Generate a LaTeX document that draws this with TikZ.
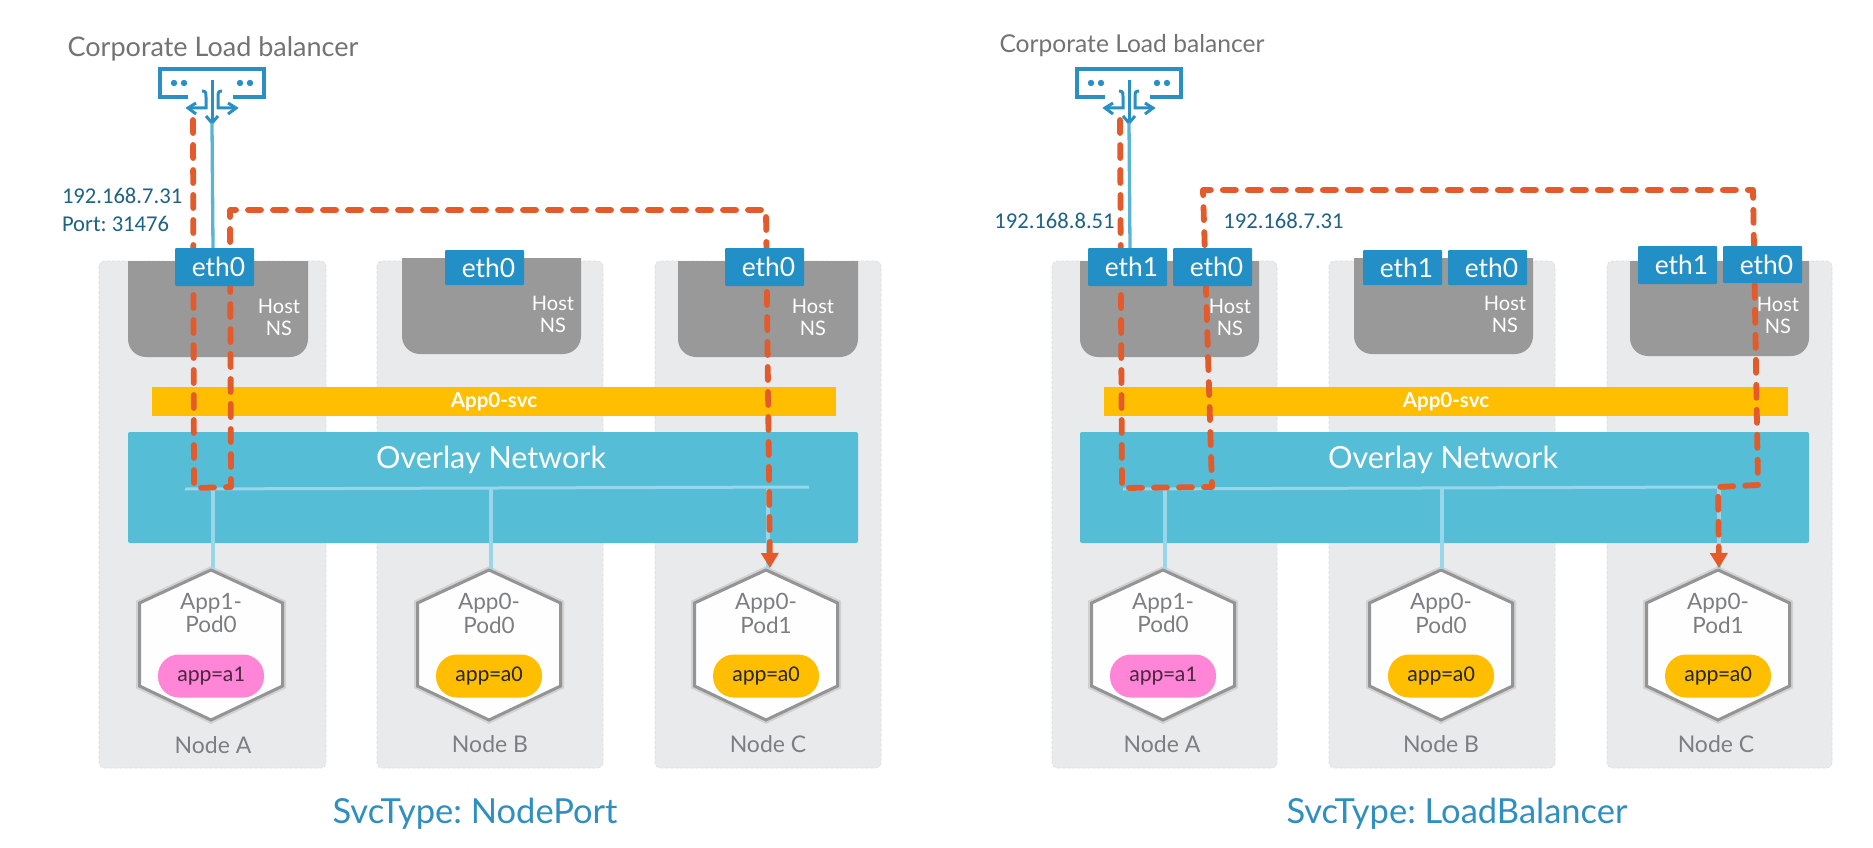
\documentclass[tikz,border=0pt]{standalone}
\usepackage{fontspec}
\setmainfont{Lato}
\newfontfamily\carl{Carlito}
\usetikzlibrary{arrows.meta}
\frenchspacing
\definecolor{nodebg}{HTML}{E9EAEB}
\definecolor{hostgray}{HTML}{999999}
\definecolor{ethblue}{HTML}{2290C6}
\definecolor{overlayc}{HTML}{55BDD6}
\definecolor{svcc}{HTML}{FFBF00}
\definecolor{pinkc}{HTML}{FF85D6}
\definecolor{pathc}{HTML}{E35A2B}
\definecolor{wirec}{HTML}{5AB4D6}
\definecolor{buswire}{HTML}{9AD6EA}
\definecolor{lbblue}{HTML}{2A8FC4}
\definecolor{iptext}{HTML}{1F6384}
\definecolor{greytext}{HTML}{7B7E82}
\definecolor{titlec}{HTML}{2E8FC0}
\tikzset{
  x=1pt,y=-1pt,
  every node/.style={inner sep=0pt,outer sep=0pt,align=center},
  panel/.style={fill=nodebg,draw=nodebg!95!black,densely dashed,line width=0.6pt,rounded corners=5pt},
  hostbox/.style={fill=hostgray},
  hosttext/.style={text=white,font=\fontsize{20}{22}\selectfont},
  ethbox/.style={fill=ethblue,text=white,minimum width=79pt,minimum height=38pt,font=\fontsize{26.4}{28}\selectfont,rounded corners=1pt},
  svcbar/.style={fill=svcc,text=white,font=\bfseries\fontsize{20.5}{22}\selectfont,minimum height=29pt},
  overlaybar/.style={fill=overlayc,rounded corners=2pt},
  overlaytext/.style={text=white,font=\fontsize{30.5}{34}\selectfont},
  podtext/.style={text=greytext,font=\fontsize{22.5}{24}\selectfont},
  nodelabel/.style={text=greytext,font=\fontsize{23}{26}\selectfont},
  pill/.style={rounded corners=21pt,minimum width=106pt,minimum height=43pt,font=\carl\fontsize{22.5}{24}\selectfont},
  iplabel/.style={text=iptext,font=\carl\fontsize{22.6}{28}\selectfont},
  lbtitle/.style={text=black!55!white,font=\fontsize{24.6}{28}\selectfont},
  svctitle/.style={text=titlec,font=\fontsize{34.5}{38}\selectfont},
  wire/.style={draw=wirec,line width=3.3pt},
  buswirest/.style={draw=buswire,line width=3pt},
  dropwire/.style={draw=buswire,line width=4pt},
  flow/.style={draw=pathc,line width=5.8pt,line cap=round,line join=round,dash pattern=on 13pt off 12pt},
  lbline/.style={draw=lbblue,line width=3pt,line join=miter},
}
% \hostns{name}{x1}{x2}{y1}{y2}{textx}{texty}
\newcommand{\hostns}[7]{%
  \path[hostbox] (#2,#4) -- (#3,#4) -- (#3,#5-18) .. controls (#3,#5-8) and (#3-8,#5) .. (#3-18,#5) -- (#2+18,#5) .. controls (#2+8,#5) and (#2,#5-8) .. (#2,#5-18) -- cycle;
  \node[hosttext] (#1) at (#6,#7) {Host\\NS};
}
% \podhex{name}{cx}{line1}{line2}{pillcolor}{pill text}{pill text color}
\newcommand{\podhex}[7]{%
  \begin{scope}[shift={(#2,0)}]
    \draw[line width=7pt,draw=black!18,line join=miter,fill=white!95!nodebg] (0,570) -- (71.5,603) -- (71.5,686) -- (0,720) -- (-71.5,686) -- (-71.5,603) -- cycle;
    \draw[line width=3pt,draw=black!42,line join=miter,fill=white!95!nodebg] (0,570) -- (71.5,603) -- (71.5,686) -- (0,720) -- (-71.5,686) -- (-71.5,603) -- cycle;
    \coordinate (#1top) at (0,569);
    \node[podtext] (#1txt) at (0,613) {#3\\#4};
    \node[pill,fill=#5,text=#7] (#1pill) at (0,676) {#6};
  \end{scope}
}
% \lbicon{name}{cx}
\newcommand{\lbicon}[2]{%
  \begin{scope}[shift={(#2,0)}]
    \draw[lbblue,line width=4.6pt,line join=miter] (-24,97) -- (-52,97) -- (-52,69) -- (52,69) -- (52,97) -- (21,97);
    \fill[lbblue] (-38,83) circle (3.2) (-28,83) circle (3.2) (28,83) circle (3.2) (38,83) circle (3.2);
    \draw[lbline] (0,80) -- (0,122);
    \draw[lbline] (-6,116) -- (0,123) -- (6,116);
    \draw[lbline] (-10,91) .. controls (-6,91) and (-6,93) .. (-6,97) -- (-6,108) -- (-24,108);
    \draw[lbline] (-16,103) -- (-24,108) -- (-16,114);
    \draw[lbline] (10,91) .. controls (6,91) and (6,93) .. (6,97) -- (6,108) -- (24,108);
    \draw[lbline] (16,103) -- (24,108) -- (16,114);
    \coordinate (#1) at (0,123);
  \end{scope}
}
\begin{document}
\begin{tikzpicture}
\fill[white] (0,0) rectangle (1873,848);
\useasboundingbox (0,0) rectangle (1873,848);

% ---------- panels ----------
\path[panel] (99,261) rectangle (326,768);
\path[panel] (377,261) rectangle (603,768);
\path[panel] (655,261) rectangle (881,768);
\path[panel] (1052,261) rectangle (1277,768);
\path[panel] (1329,261) rectangle (1555,768);
\path[panel] (1607,261) rectangle (1832,768);

% ---------- host namespaces ----------
\hostns{hostLA}{128}{308}{261}{357}{279}{317}
\hostns{hostLB}{402}{581}{258}{354}{553}{314}
\hostns{hostLC}{678}{858}{261}{357}{813}{317}
\hostns{hostRA}{1080}{1259}{261}{357}{1230}{317}
\hostns{hostRB}{1354}{1533}{258}{354}{1505}{314}
\hostns{hostRC}{1630}{1809}{261}{356}{1778}{315}

% ---------- service bars ----------
\node[svcbar,minimum width=684pt] (svcL) at (494,401.5) {App0-svc};
\node[svcbar,minimum width=684pt] (svcR) at (1446,401.5) {App0-svc};

% ---------- overlay ----------
\path[overlaybar] (128,432) rectangle (858,543);
\path[overlaybar] (1080,432) rectangle (1809,543);
\node[overlaytext] (ovL) at (491,460) {Overlay Network};
\node[overlaytext] (ovR) at (1443,460) {Overlay Network};

% ---------- titles and labels ----------
\node[lbtitle,font=\fontsize{27}{30}\selectfont] (tL) at (213,49) {Corporate Load balancer};
\node[lbtitle] (tR) at (1132,46) {Corporate Load balancer};
\node[iplabel,align=left,anchor=west] (ipL) at (62,210) {192.168.7.31\\Port: 31476};
\node[iplabel] (ipRa) at (1054.5,221) {192.168.8.51};
\node[iplabel] (ipRb) at (1283.5,221) {192.168.7.31};
\node[svctitle] (svcTL) at (475,814) {SvcType: NodePort};
\node[svctitle] (svcTR) at (1457,814) {SvcType: LoadBalancer};

% ---------- pods ----------
\podhex{pLA}{211}{App1-}{Pod0}{pinkc}{app=a1}{black!70!pinkc}
\podhex{pLB}{489}{App0-}{Pod0}{svcc}{app=a0}{black!85}
\podhex{pLC}{766}{App0-}{Pod1}{svcc}{app=a0}{black!85}
\podhex{pRA}{1163}{App1-}{Pod0}{pinkc}{app=a1}{black!70!pinkc}
\podhex{pRB}{1441}{App0-}{Pod0}{svcc}{app=a0}{black!85}
\podhex{pRC}{1718}{App0-}{Pod1}{svcc}{app=a0}{black!85}

\node[nodelabel] (nLA) at (213,745) {Node A};
\node[nodelabel] (nLB) at (490,744) {Node B};
\node[nodelabel] (nLC) at (768,744) {Node C};
\node[nodelabel] (nRA) at (1162,744) {Node A};
\node[nodelabel] (nRB) at (1441,744) {Node B};
\node[nodelabel] (nRC) at (1716,744) {Node C};

% ---------- LB icons ----------
\lbicon{lbL}{212}
\lbicon{lbR}{1129}

% ---------- overlay bus ----------
\coordinate (busLa) at (185,489);
\coordinate (busLA) at (213,489);
\coordinate (busLB) at (491,489);
\coordinate (busLC) at (768,489);
\coordinate (busLb) at (809,487);
\coordinate (busRa) at (1123,489);
\coordinate (busRA) at (1165,489);
\coordinate (busRB) at (1442,488);
\coordinate (busRC) at (1719,487);
\draw[buswirest] (busLa) -- (busLb);
\draw[buswirest] (busRa) -- (busRC);
\draw[dropwire] (busLA) -- (pLAtop -| busLA);
\draw[dropwire] (busLB) -- (pLBtop -| busLB);
\draw[dropwire] (busLC) -- (pLCtop -| busLC);
\draw[dropwire] (busRA) -- (pRAtop -| busRA);
\draw[dropwire] (busRB) -- (pRBtop -| busRB);
\draw[dropwire] (busRC) -- (pRCtop -| busRC);

% ---------- traffic flow ----------
\coordinate (fa1) at (193,120);
\coordinate (fa2) at (194,488);
\coordinate (fa3) at (231,487);
\coordinate (fa4) at (230,210);
\coordinate (fa5) at (766,210);
\coordinate (fb1) at (1120,120);
\coordinate (fb2) at (1122,488);
\coordinate (fb3) at (1212,487);
\coordinate (fb4) at (1203,190);
\coordinate (fb5) at (1753,190);
\coordinate (fb6) at (1758,485);
\coordinate (fb7) at (1718,487);
\coordinate (tipLC) at (770,568);
\coordinate (tipRC) at (1719,568);
\draw[flow,-{Triangle[width=17pt,length=15pt]}] (fa1) -- (fa2) -- (fa3) -- (fa4) -- (fa5) -- (tipLC);
\draw[flow,-{Triangle[width=17pt,length=15pt]}] (fb1) -- (fb2) -- (fb3) -- (fb4) -- (fb5) -- (fb6) -- (fb7) -- (tipRC);

% ---------- eth interfaces ----------
\newcommand{\ethtxt}[1]{\hspace*{8pt}#1}
\node[ethbox] (eLA0) at (214.5,267) {\ethtxt{eth0}};
\node[ethbox,minimum height=35pt] (eLB0) at (484.5,267.5) {\ethtxt{eth0}};
\node[ethbox] (eLC0) at (764.5,267) {\ethtxt{eth0}};
\node[ethbox] (eRA1) at (1127.5,267) {\ethtxt{eth1}};
\node[ethbox] (eRA0) at (1212.5,267) {\ethtxt{eth0}};
\node[ethbox,minimum height=35pt] (eRB1) at (1402.5,267.5) {\ethtxt{eth1}};
\node[ethbox,minimum height=35pt] (eRB0) at (1487.5,267.5) {\ethtxt{eth0}};
\node[ethbox] (eRC1) at (1677.5,265) {\ethtxt{eth1}};
\node[ethbox,minimum height=37pt] (eRC0) at (1762.5,264.5) {\ethtxt{eth0}};

% ---------- uplinks ----------
\draw[wire] (lbL) -- (eLA0.north -| 213,0);
\draw[wire] (lbR) -- (eRA1.north -| 1130,0);
\end{tikzpicture}
\end{document}
